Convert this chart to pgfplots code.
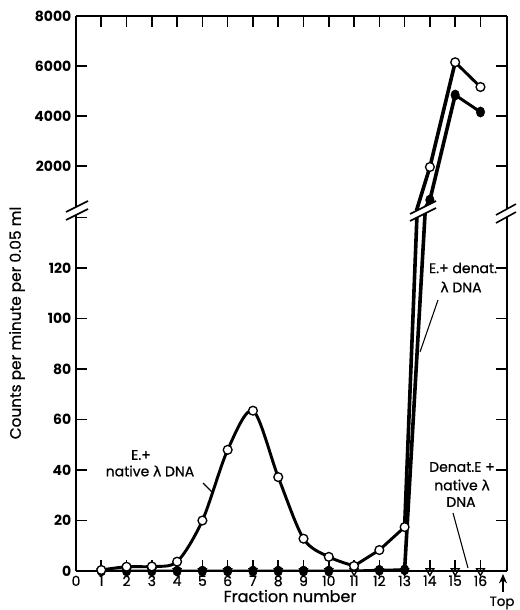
\documentclass[border=0pt]{standalone}
\usepackage{pgfplots}
\pgfplotsset{compat=1.18}
\usetikzlibrary{arrows.meta}
\usepackage{fontspec}
\setmainfont{Poppins}
\newfontfamily\medfont{Poppins}[FakeBold=0.8]
\newfontfamily\grk{DejaVu Sans}
\newfontfamily\grkmed{DejaVu Sans}[FakeBold=0.8]
\newcommand{\lam}{{\grkmed λ}}
\begin{document}
\begin{tikzpicture}
\path[use as bounding box] (0,0) rectangle (390pt,-457.5pt);
\pgfplotsset{
  common/.style={
    scale only axis, width=323.25pt,
    xmin=0, xmax=17.05,
    axis line style={line width=1.5pt},
    tick style={line width=1.2pt, black},
    major tick length=8pt,
    tick align=inside,
    /pgf/number format/assume math mode=true,
    /pgf/number format/1000 sep={},
    scaled ticks=false,
    clip=true,
    tick label style={font=\fontsize{10.5}{12}\selectfont\medfont},
    yticklabel style={font=\fontsize{10.5}{12}\selectfont\bfseries},
  },
  ln/.style={line width=2.2pt, black, mark=none},
  jump/.style={line width=2.7pt, black, mark=none},
  opc/.style={only marks, mark=*, mark size=3.3pt, mark options={fill=white, draw=black, line width=1pt}},
  fic/.style={only marks, mark=*, mark size=3.2pt, mark options={fill=black, draw=black, yscale=1.2}},
  tri/.style={only marks, mark=triangle, mark size=3.4pt, mark options={fill=white, draw=black, line width=1pt, rotate=180}},
}
% ---------------- lower panel ----------------
\begin{axis}[common, at={(57pt,-428.25pt)}, anchor=south west, height=271.5pt,
  ymin=0, ymax=143.4,
  axis x line*=bottom, axis y line*=box, separate axis lines,
  xtick={0,...,16},
  ytick={0,20,...,140}, yticklabels={0,20,40,60,80,100,120,{}},
]
% Denat. E + native lambda DNA
\addplot[ln] coordinates {(1,0)(2,0)(3,0)(4,0)(5,0)(6,0)(7,0)(8,0)(9,0)(10,0)(11,0)(12,0)(13,0)(14,0)(15,0)(16,0)};
\addplot[tri] coordinates {(1,0)(2,0)(3,0)(4,0)(5,0)(6,0)(7,0)(8,0)(9,0)(10,0)(11,0)(12,0)(13,0)(14,0)(15,0)(16,0)};
% E. + denat. lambda DNA
\addplot[ln] coordinates {(1,0)(2,0)(3,0)(4,0)(5,0)(6,0)(7,0)(8,0)(9,0)(10,0)(11,0)(12,0.3)(13,0.5)};
\addplot[jump] coordinates {(13,0.5)(14,175)};
\addplot[fic] coordinates {(1,0)(2,0)(3,0)(4,0)(5,0)(6,0)(7,0)(8,0)(9,0)(10,0)(12,0.3)(13,0.5)};
% E. + native lambda DNA
\addplot[ln, smooth, tension=0.5] coordinates {(1,0.4)(2,1.7)(3,1.8)(4,3.7)(5,20)(6,48)(7,63.5)(8,37.2)(9,12.8)(10,5.6)(11,2)};
\addplot[ln] coordinates {(11,2)(12,8.3)(13,17.4)};
\addplot[jump] coordinates {(13,17.4)(14,270)};
\addplot[opc] coordinates {(1,0.4)(2,1.7)(3,1.8)(4,3.7)(5,20)(6,48)(7,63.5)(8,37.2)(9,12.8)(10,5.6)(11,2)(12,8.3)(13,17.4)};
\end{axis}
% ---------------- upper panel ----------------
\begin{axis}[common, at={(57pt,-12pt)}, anchor=north west, height=144.75pt,
  ymin=280, ymax=8000,
  axis x line*=top, axis y line*=box, separate axis lines,
  xtick={1,...,16}, xticklabels={},
  ytick={2000,4000,6000,8000},
]
\addplot[jump] coordinates {(13,-1080)(14,640)(15,4840)};
\addplot[ln] coordinates {(15,4840)(16,4160)};
\addplot[fic] coordinates {(14,640)(15,4840)(16,4160)};
\addplot[jump] coordinates {(13,-1320)(14,1960)(15,6150)};
\addplot[ln] coordinates {(15,6150)(16,5160)};
\addplot[opc] coordinates {(14,1960)(15,6150)(16,5160)};
\end{axis}
% ---------------- annotations (pixel units) ----------------
\begin{scope}[x=0.75pt, y=-0.75pt, font=\fontsize{10.5}{12}\selectfont\medfont]
% axis breaks
\fill[white] (66,212)--(88,201)--(88,209)--(66,220)--cycle;
\draw[line width=1.2pt] (66,212)--(88,201) (66,220)--(88,209);
\fill[white] (496,215)--(516,204)--(516,212)--(496,223)--cycle;
\draw[line width=1.2pt] (496,215)--(516,204) (496,223)--(516,212);
\fill[white] (410,214)--(436,201)--(436,208)--(410,221)--cycle;
\draw[line width=1.2pt] (410,214)--(436,201) (410,221)--(436,208);
% labels
\node at (141,455) {E.+};
\node at (150,471) {native \lam\ DNA};
\draw[line width=0.8pt] (203,483)--(213,493);
\node at (463,268) {E.+ denat.};
\node at (461,287) {\lam\ DNA};
\draw[line width=0.8pt] (438,300)--(420,352);
\node at (462,467) {Denat.E +};
\node at (462,485) {native \lam};
\node at (461,502) {DNA};
\draw[line width=0.8pt] (453,513)--(468,568);
\node[font=\fontsize{12}{14}\selectfont\medfont] at (290,596) {Fraction number};
\node[rotate=90, font=\fontsize{11.5}{14}\selectfont\medfont] at (17,323) {Counts per minute per 0.05 ml};
\draw[line width=1pt, -{Stealth[length=7pt,width=6pt]}] (503,592)--(503,574);
\node[font=\fontsize{10}{12}\selectfont\medfont] at (502,603) {Top};
\end{scope}
\end{tikzpicture}
\end{document}
